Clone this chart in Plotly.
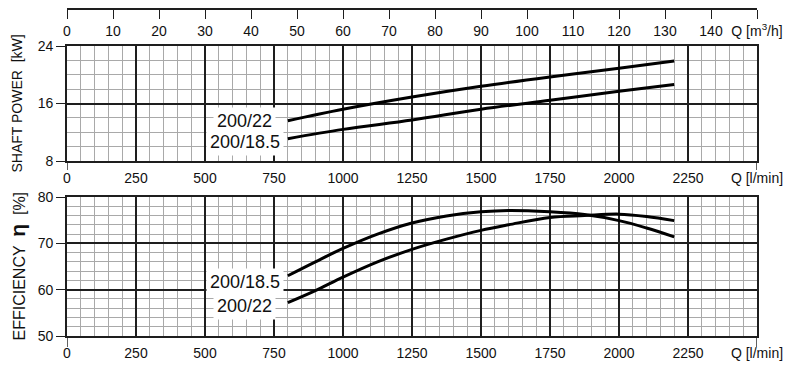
import plotly.graph_objects as go

# ---- data ----
q_power = [800, 1000, 1250, 1500, 1750, 2000, 2200]
power_200_22 = [13.6, 15.2, 16.9, 18.4, 19.7, 20.9, 21.9]
power_200_185 = [11.1, 12.4, 13.7, 15.2, 16.45, 17.7, 18.65]

q_eff = [800, 900, 1000, 1125, 1250, 1375, 1500, 1600, 1750, 1875, 2000, 2100, 2200]
eff_200_185 = [63.0, 66.0, 68.9, 72.0, 74.4, 75.9, 76.8, 77.1, 76.8, 76.2, 74.9, 73.3, 71.4]
eff_200_22 = [57.2, 59.8, 62.7, 66.0, 68.7, 70.9, 72.8, 74.0, 75.6, 76.0, 76.3, 75.8, 74.9]

q_lmin_ticks = [0, 250, 500, 750, 1000, 1250, 1500, 1750, 2000, 2250, 2500]
q_lmin_text = ["0", "250", "500", "750", "1000", "1250", "1500", "1750", "2000", "2250", "Q [l/min]"]
q_m3h_ticks = list(range(0, 151, 10))
q_m3h_text = [str(v) for v in range(0, 141, 10)] + ["Q [m<sup>3</sup>/h]"]
power_ticks = [8, 16, 24]
eff_ticks = [50, 60, 70, 80]

# ---- styling ----
W, H = 790, 366
ML, MR, MT, MB = 67, 33, 9, 30
PH = H - MT - MB
def fy(px):
    return (H - MB - px) / PH

TOP_DOM = [fy(161), fy(46)]
BOT_DOM = [0, fy(197)]
FONT = "Liberation Sans Narrow, Arial Narrow, sans-serif"
DARK = "#1e1e1e"
MINOR = "#a9a9a9"
LW = 3

fig = go.Figure()
fig.add_trace(go.Scatter(x=q_power, y=power_200_22, mode="lines", line=dict(color="black", width=LW, shape="spline"),
                         xaxis="x", yaxis="y", showlegend=False))
fig.add_trace(go.Scatter(x=q_power, y=power_200_185, mode="lines", line=dict(color="black", width=LW, shape="spline"),
                         xaxis="x", yaxis="y", showlegend=False))
fig.add_trace(go.Scatter(x=q_eff, y=eff_200_185, mode="lines", line=dict(color="black", width=LW, shape="spline"),
                         xaxis="x2", yaxis="y2", showlegend=False))
fig.add_trace(go.Scatter(x=q_eff, y=eff_200_22, mode="lines", line=dict(color="black", width=LW, shape="spline"),
                         xaxis="x2", yaxis="y2", showlegend=False))
# dummy trace to activate the m3/h axis
fig.add_trace(go.Scatter(x=[0, 150], y=[None, None], mode="markers", xaxis="x3", yaxis="y",
                         showlegend=False, hoverinfo="skip"))

tickfont = dict(family=FONT, size=14, color="#111")

def xax(anchor):
    return dict(domain=[0, 1], anchor=anchor, range=[0, 2500], tickmode="array",
                tickvals=q_lmin_ticks, ticktext=q_lmin_text, tickfont=tickfont,
                showgrid=True, gridcolor=DARK, gridwidth=1.6,
                minor=dict(tick0=0, dtick=50, showgrid=True, gridcolor=MINOR, gridwidth=1.2),
                showline=True, mirror=True, linecolor=DARK, linewidth=1.6,
                ticks="outside", ticklen=3, tickcolor="rgba(0,0,0,0)", zeroline=False,
                fixedrange=True, automargin=False)

def yax(domain, rng, tv, anchor, mdt):
    return dict(domain=domain, anchor=anchor, range=rng, tickmode="array", tickvals=tv, tickfont=tickfont,
                showgrid=True, gridcolor=DARK, gridwidth=1.6,
                minor=dict(tick0=rng[0], dtick=mdt, showgrid=True, gridcolor=MINOR, gridwidth=1.2),
                showline=True, mirror=True, linecolor=DARK, linewidth=1.6,
                ticks="outside", ticklen=9, tickcolor=DARK, tickwidth=1.4, zeroline=False,
                fixedrange=True, automargin=False)

fig.update_layout(
    width=W, height=H, margin=dict(l=ML, r=MR, t=MT, b=MB, autoexpand=False),
    paper_bgcolor="white", plot_bgcolor="white",
    xaxis=xax("y"),
    yaxis=yax(TOP_DOM, [8, 24], power_ticks, "x", 2),
    xaxis2=xax("y2"),
    yaxis2=yax(BOT_DOM, [50, 80], eff_ticks, "x2", 2),
    xaxis3=dict(overlaying="x", anchor="free", position=1, side="bottom", range=[0, 150],
                tickmode="array", tickvals=q_m3h_ticks, ticktext=q_m3h_text, tickfont=tickfont,
                showgrid=False, zeroline=False, showline=True, linecolor=DARK, linewidth=1.6,
                ticks="outside", ticklen=9, tickcolor=DARK, tickwidth=1.4, fixedrange=True,
                automargin=False),
)

# axis line extensions (at 0 and at the right end)
for yb, ext in [(TOP_DOM[0], 9 / PH), (BOT_DOM[0], 11 / PH)]:
    for xv in [0, 2500]:
        fig.add_shape(type="line", xref="x", yref="paper", x0=xv, x1=xv, y0=yb, y1=yb - ext,
                      line=dict(color=DARK, width=1.4))

# axis titles
fig.add_annotation(text="SHAFT POWER  [kW]", xref="paper", yref="paper", x=0, xshift=-50,
                   y=(TOP_DOM[0] + TOP_DOM[1]) / 2, xanchor="center", yanchor="middle",
                   textangle=-90, showarrow=False,
                   font=dict(family=FONT, size=14, color="#111"))
fig.add_annotation(text="EFFICIENCY  <b><span style='font-size:21px'>η</span></b>  [%]", xref="paper", yref="paper",
                   x=0, xshift=-50, y=(BOT_DOM[0] + BOT_DOM[1]) / 2, xanchor="center", yanchor="middle",
                   textangle=-90, showarrow=False,
                   font=dict(family=FONT, size=16, color="#111"))

# curve labels
lab_font = dict(family="Liberation Sans, Arial, sans-serif", size=18, color="#111")
for txt, xs, ys, xr, yr, xsh, ysh in [
    ("200/22", q_power, power_200_22, "x", "y", -12, 0),
    ("200/18.5", q_power, power_200_185, "x", "y", -4, -3),
    ("200/18.5", q_eff, eff_200_185, "x2", "y2", -4, -6),
    ("200/22", q_eff, eff_200_22, "x2", "y2", -12, -3),
]:
    fig.add_annotation(text=txt, x=xs[0], y=ys[0], xref=xr, yref=yr, xanchor="right", yanchor="middle",
                       xshift=xsh, yshift=ysh, showarrow=False, bgcolor="white", borderpad=3, font=lab_font)

fig.write_html("out.html", config={"displayModeBar": False},
               post_script="document.body.style.margin='0';")
